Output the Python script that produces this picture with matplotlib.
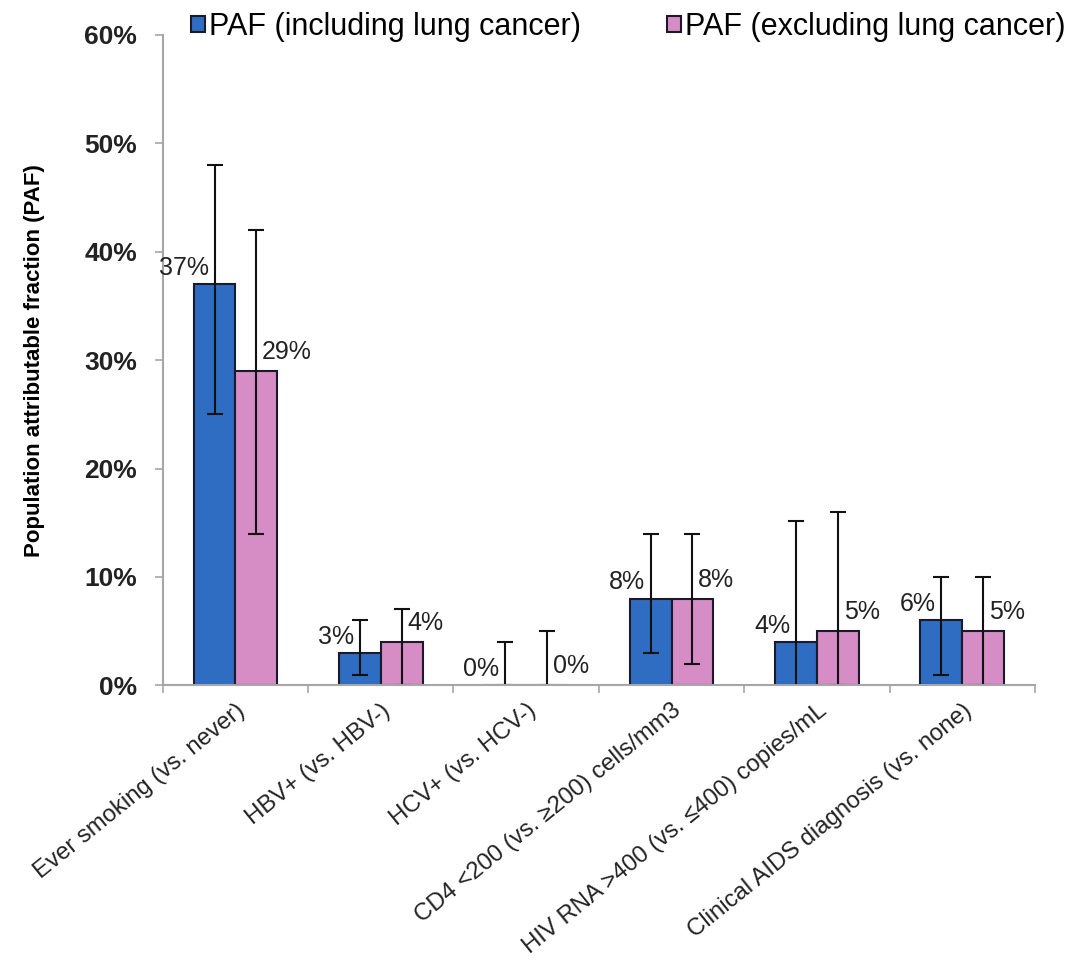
import matplotlib.pyplot as plt
import matplotlib.transforms as mtransforms
import numpy as np

plt.rcParams["font.family"] = ["Liberation Sans", "DejaVu Sans"]

categories = [
    "Ever smoking (vs. never)",
    "HBV+ (vs. HBV-)",
    "HCV+ (vs. HCV-)",
    "CD4 <200 (vs. \u2265200) cells/mm3",
    "HIV RNA >400 (vs. \u2264400) copies/mL",
    "Clinical AIDS diagnosis (vs. none)",
]
series_names = ["PAF (including lung cancer)", "PAF (excluding lung cancer)"]

# values in percent
paf_incl = [37, 3, 0, 8, 4, 6]
paf_incl_lo = [25, 1, 0, 3, 0, 1]
paf_incl_hi = [48, 6, 4, 14, 15.2, 10]

paf_excl = [29, 4, 0, 8, 5, 5]
paf_excl_lo = [14, 0, 0, 2, 0, 0]
paf_excl_hi = [42, 7, 5, 14, 16, 10]

blue = "#2F6DC3"
pink = "#D68CC4"
gray = "#A6A6A6"

fig = plt.figure(figsize=(10.78, 9.68), dpi=100)
ax = fig.add_axes([0.151, 0.292, 0.809, 0.672])

x = np.arange(len(categories))
w = 0.288

series = [
    (paf_incl, paf_incl_lo, paf_incl_hi, blue, -w / 2),
    (paf_excl, paf_excl_lo, paf_excl_hi, pink, w / 2),
]
for i, (vals, lo, hi, col, off) in enumerate(series):
    vals = np.array(vals, dtype=float)
    yerr = [vals - np.array(lo), np.array(hi) - vals]
    ax.bar(x + off, vals, w, color=col, edgecolor="#1a1a2a", linewidth=1.5,
           label=series_names[i], zorder=2)
    ax.errorbar(x + off, vals, yerr=yerr, fmt="none", ecolor="#111111",
                elinewidth=1.5, capsize=6, capthick=1.5, zorder=2.2)
    for xi, v in zip(x + off, vals):
        if i == 0:
            ax.annotate(f"{v:.0f}%", (xi - 0.04, v), xytext=(0, 3),
                        textcoords="offset points", ha="right", va="bottom",
                        fontsize=18, color="#222222")
        else:
            ax.annotate(f"{v:.0f}%", (xi + 0.04, v), xytext=(0, 5),
                        textcoords="offset points", ha="left", va="bottom",
                        fontsize=18, color="#222222")

ax.set_xlim(-0.5, len(categories) - 0.5)
ax.set_ylim(0, 60)
ax.set_yticks(np.arange(0, 61, 10))
ax.set_yticklabels([f"{t}%" for t in range(0, 61, 10)], fontsize=19,
                   fontweight="bold", color="#222222")
ax.set_ylabel("Population attributable fraction (PAF)", fontsize=16,
              fontweight="bold", labelpad=28)

ax.set_xticks(x)
ax.set_xticklabels(categories, rotation=39, ha="right", rotation_mode="anchor",
                   fontsize=17.2, color="#222222")
shift = mtransforms.ScaledTranslation(5 / 100, 0, fig.dpi_scale_trans)
for lbl in ax.get_xticklabels():
    lbl.set_transform(lbl.get_transform() + shift)
ax.tick_params(axis="x", length=0, pad=10)
ax.set_xticks(np.arange(-0.5, len(categories), 1), minor=True)
ax.tick_params(axis="x", which="minor", length=6, color=gray, width=1.2)
ax.tick_params(axis="y", length=6, color=gray, width=1.2, pad=12.5)

for s in ["top", "right"]:
    ax.spines[s].set_visible(False)
for s in ["left", "bottom"]:
    ax.spines[s].set_color(gray)
    ax.spines[s].set_linewidth(1.5)

fig.legend(loc="center", bbox_to_anchor=(0.583, 0.972), ncol=2,
           frameon=False, fontsize=22, handlelength=0.45, handleheight=0.45,
           handletextpad=0.15, columnspacing=2.8, borderaxespad=0, borderpad=0)

fig.savefig("out.png", dpi=100)
